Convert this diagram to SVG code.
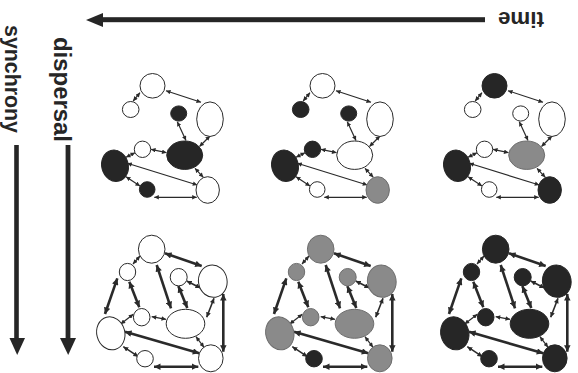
<svg xmlns="http://www.w3.org/2000/svg" width="578" height="373" viewBox="0 0 578 373">
  <style>
    .lbl { font-family: "Liberation Sans", Arial, sans-serif; font-weight: bold; fill: #262626; }
    .axis { fill: #262626; }
    .w { fill: #ffffff; stroke: #2a2a2a; stroke-width: 1; }
    .b { fill: #262626; stroke: #262626; stroke-width: 1; }
    .g { fill: #8a8a8a; stroke: #6e6e6e; stroke-width: 1; }
    .e1 { stroke: #2a2a2a; stroke-width: 1.2; fill: none; marker-start: url(#hs); marker-end: url(#hs); }
    .e2 { stroke: #2a2a2a; stroke-width: 1.6; fill: none; marker-start: url(#hm); marker-end: url(#hm); }
    .e3 { stroke: #2a2a2a; stroke-width: 2.6; fill: none; marker-start: url(#hl); marker-end: url(#hl); }
  </style>
  <defs>
    <marker id="hs" viewBox="0 0 10 10" refX="10" refY="5" markerWidth="5" markerHeight="4.5" markerUnits="userSpaceOnUse" orient="auto-start-reverse">
      <path d="M0,0 L10,5 L0,10 z" fill="#2a2a2a"/>
    </marker>
    <marker id="hm" viewBox="0 0 10 10" refX="10" refY="5" markerWidth="5.5" markerHeight="5" markerUnits="userSpaceOnUse" orient="auto-start-reverse">
      <path d="M0,0 L10,5 L0,10 z" fill="#2a2a2a"/>
    </marker>
    <marker id="hl" viewBox="0 0 10 10" refX="10" refY="5" markerWidth="7" markerHeight="6.5" markerUnits="userSpaceOnUse" orient="auto-start-reverse">
      <path d="M0,0 L10,5 L0,10 z" fill="#2a2a2a"/>
    </marker>
  </defs>

  <rect width="578" height="373" fill="#ffffff"/>

  <!-- axes -->
  <g id="axis-time">
    <rect class="axis" x="100" y="17.2" width="385" height="5"/>
    <polygon class="axis" points="86,20 103,13 103,27"/>
    <text class="lbl" font-size="22" text-anchor="middle" textLength="46" lengthAdjust="spacingAndGlyphs" transform="translate(521,11.7) rotate(180)">time</text>
  </g>
  <g id="axis-dispersal">
    <rect class="axis" x="65.6" y="145" width="4.8" height="195"/>
    <polygon class="axis" points="60,338 76,338 68.2,355"/>
    <text class="lbl" font-size="23" textLength="105" lengthAdjust="spacingAndGlyphs" transform="translate(53.5,37) rotate(90)">dispersal</text>
  </g>
  <g id="axis-synchrony">
    <rect class="axis" x="14.2" y="145" width="4.6" height="195"/>
    <polygon class="axis" points="9.5,338 25,338 17.2,355"/>
    <text class="lbl" font-size="22" textLength="108" lengthAdjust="spacingAndGlyphs" transform="translate(4.5,25) rotate(90)">synchrony</text>
  </g>

  <!-- connectors -->
  <g id="connectors">
    <g id="c-top-1">
      <line class="e1" x1="140" y1="92.7" x2="133.2" y2="101"/>
      <line class="e1" x1="166" y1="90.7" x2="201" y2="102.3"/>
      <line class="e1" x1="177.3" y1="121.7" x2="186" y2="140.5"/>
      <line class="e1" x1="210" y1="136" x2="199.5" y2="146.5"/>
      <line class="e1" x1="151" y1="149.3" x2="166.5" y2="152.7"/>
      <line class="e1" x1="135" y1="152.7" x2="126" y2="157.3"/>
      <line class="e1" x1="127.3" y1="163.3" x2="197.3" y2="185"/>
      <line class="e1" x1="195" y1="168.3" x2="203.3" y2="177.3"/>
      <line class="e1" x1="126" y1="176.7" x2="140" y2="186"/>
      <line class="e1" x1="154.3" y1="197.3" x2="196.7" y2="197.3"/>
    </g>
    <g id="c-top-2" transform="translate(170,0)">
      <line class="e1" x1="140" y1="92.7" x2="133.2" y2="101"/>
      <line class="e1" x1="166" y1="90.7" x2="201" y2="102.3"/>
      <line class="e1" x1="177.3" y1="121.7" x2="186" y2="140.5"/>
      <line class="e1" x1="210" y1="136" x2="199.5" y2="146.5"/>
      <line class="e1" x1="151" y1="149.3" x2="166.5" y2="152.7"/>
      <line class="e1" x1="135" y1="152.7" x2="126" y2="157.3"/>
      <line class="e1" x1="127.3" y1="163.3" x2="197.3" y2="185"/>
      <line class="e1" x1="195" y1="168.3" x2="203.3" y2="177.3"/>
      <line class="e1" x1="126" y1="176.7" x2="140" y2="186"/>
      <line class="e1" x1="154.3" y1="197.3" x2="196.7" y2="197.3"/>
    </g>
    <g id="c-top-3" transform="translate(342,0)">
      <line class="e1" x1="140" y1="92.7" x2="133.2" y2="101"/>
      <line class="e1" x1="166" y1="90.7" x2="201" y2="102.3"/>
      <line class="e1" x1="177.3" y1="121.7" x2="186" y2="140.5"/>
      <line class="e1" x1="210" y1="136" x2="199.5" y2="146.5"/>
      <line class="e1" x1="151" y1="149.3" x2="166.5" y2="152.7"/>
      <line class="e1" x1="135" y1="152.7" x2="126" y2="157.3"/>
      <line class="e1" x1="127.3" y1="163.3" x2="197.3" y2="185"/>
      <line class="e1" x1="195" y1="168.3" x2="203.3" y2="177.3"/>
      <line class="e1" x1="126" y1="176.7" x2="140" y2="186"/>
      <line class="e1" x1="154.3" y1="197.3" x2="196.7" y2="197.3"/>
    </g>
    <g id="c-bot-1">
      <line class="e1" x1="140" y1="256" x2="133" y2="264"/>
      <line class="e3" x1="165" y1="253.3" x2="201.7" y2="266"/>
      <line class="e3" x1="156.7" y1="265" x2="171" y2="308.3"/>
      <line class="e3" x1="117.3" y1="278.3" x2="105" y2="314"/>
      <line class="e3" x1="129.3" y1="281.7" x2="139.3" y2="307.3"/>
      <line class="e2" x1="186.7" y1="281" x2="200.5" y2="288"/>
      <line class="e3" x1="178.3" y1="286" x2="187.3" y2="308"/>
      <line class="e2" x1="214" y1="298.3" x2="206.7" y2="317.3"/>
      <line class="e3" x1="223.3" y1="294" x2="223.3" y2="351.7"/>
      <line class="e1" x1="133.3" y1="314.3" x2="120.7" y2="324"/>
      <line class="e1" x1="151.7" y1="316.7" x2="166" y2="319.3"/>
      <line class="e3" x1="125" y1="331.7" x2="199.3" y2="353.3"/>
      <line class="e1" x1="196" y1="336.7" x2="204" y2="347.3"/>
      <line class="e2" x1="123.3" y1="346.7" x2="138.3" y2="356.7"/>
      <line class="e3" x1="154" y1="366.7" x2="198.3" y2="366.7"/>
    </g>
    <g id="c-bot-2" transform="translate(169,0)">
      <line class="e1" x1="140" y1="256" x2="133" y2="264"/>
      <line class="e3" x1="165" y1="253.3" x2="201.7" y2="266"/>
      <line class="e3" x1="156.7" y1="265" x2="171" y2="308.3"/>
      <line class="e3" x1="117.3" y1="278.3" x2="105" y2="314"/>
      <line class="e3" x1="129.3" y1="281.7" x2="139.3" y2="307.3"/>
      <line class="e2" x1="186.7" y1="281" x2="200.5" y2="288"/>
      <line class="e3" x1="178.3" y1="286" x2="187.3" y2="308"/>
      <line class="e2" x1="214" y1="298.3" x2="206.7" y2="317.3"/>
      <line class="e3" x1="223.3" y1="294" x2="223.3" y2="351.7"/>
      <line class="e1" x1="133.3" y1="314.3" x2="120.7" y2="324"/>
      <line class="e1" x1="151.7" y1="316.7" x2="166" y2="319.3"/>
      <line class="e3" x1="125" y1="331.7" x2="199.3" y2="353.3"/>
      <line class="e1" x1="196" y1="336.7" x2="204" y2="347.3"/>
      <line class="e2" x1="123.3" y1="346.7" x2="138.3" y2="356.7"/>
      <line class="e3" x1="154" y1="366.7" x2="198.3" y2="366.7"/>
    </g>
    <g id="c-bot-3" transform="translate(344,0)">
      <line class="e1" x1="140" y1="256" x2="133" y2="264"/>
      <line class="e3" x1="165" y1="253.3" x2="201.7" y2="266"/>
      <line class="e3" x1="156.7" y1="265" x2="171" y2="308.3"/>
      <line class="e3" x1="117.3" y1="278.3" x2="105" y2="314"/>
      <line class="e3" x1="129.3" y1="281.7" x2="139.3" y2="307.3"/>
      <line class="e2" x1="186.7" y1="281" x2="200.5" y2="288"/>
      <line class="e3" x1="178.3" y1="286" x2="187.3" y2="308"/>
      <line class="e2" x1="214" y1="298.3" x2="206.7" y2="317.3"/>
      <line class="e3" x1="223.3" y1="294" x2="223.3" y2="351.7"/>
      <line class="e1" x1="133.3" y1="314.3" x2="120.7" y2="324"/>
      <line class="e1" x1="151.7" y1="316.7" x2="166" y2="319.3"/>
      <line class="e3" x1="125" y1="331.7" x2="199.3" y2="353.3"/>
      <line class="e1" x1="196" y1="336.7" x2="204" y2="347.3"/>
      <line class="e2" x1="123.3" y1="346.7" x2="138.3" y2="356.7"/>
      <line class="e3" x1="154" y1="366.7" x2="198.3" y2="366.7"/>
    </g>
  </g>

  <!-- top row: sparse network at three times -->
  <g id="panel-top-1">
    <g id="t1-n1"><ellipse class="w" cx="152.5" cy="85.8" rx="12.5" ry="12.3"/></g>
    <g id="t1-n2"><ellipse class="w" cx="130.7" cy="109.5" rx="8.3" ry="8"/></g>
    <g id="t1-n3"><ellipse class="b" cx="178.7" cy="113.5" rx="8" ry="7.6"/></g>
    <g id="t1-n4"><ellipse class="w" cx="210" cy="119.2" rx="13.3" ry="17.3"/></g>
    <g id="t1-n5"><ellipse class="w" cx="142.5" cy="149.3" rx="8.2" ry="8.2"/></g>
    <g id="t1-n6"><ellipse class="b" cx="184.7" cy="155.2" rx="18" ry="14.2"/></g>
    <g id="t1-n7"><ellipse class="b" cx="115" cy="165.8" rx="13.3" ry="15.8" transform="rotate(-15 115 165.8)"/></g>
    <g id="t1-n8"><ellipse class="b" cx="147.2" cy="189.5" rx="7.8" ry="7.8"/></g>
    <g id="t1-n9"><ellipse class="w" cx="207.7" cy="190" rx="11.7" ry="13.3"/></g>
  </g>
  <g id="panel-top-2" transform="translate(170,0)">
    <g id="t2-n1"><ellipse class="w" cx="152.5" cy="85.8" rx="12.5" ry="12.3"/></g>
    <g id="t2-n2"><ellipse class="b" cx="130.7" cy="109.5" rx="8.3" ry="8"/></g>
    <g id="t2-n3"><ellipse class="b" cx="178.7" cy="113.5" rx="8" ry="7.6"/></g>
    <g id="t2-n4"><ellipse class="w" cx="210" cy="119.2" rx="13.3" ry="17.3"/></g>
    <g id="t2-n5"><ellipse class="b" cx="142.5" cy="149.3" rx="8.2" ry="8.2"/></g>
    <g id="t2-n6"><ellipse class="w" cx="184.7" cy="155.2" rx="18" ry="14.2"/></g>
    <g id="t2-n7"><ellipse class="b" cx="115" cy="165.8" rx="13.3" ry="15.8" transform="rotate(-15 115 165.8)"/></g>
    <g id="t2-n8"><ellipse class="w" cx="147.2" cy="189.5" rx="7.8" ry="7.8"/></g>
    <g id="t2-n9"><ellipse class="g" cx="207.7" cy="190" rx="11.7" ry="13.3"/></g>
  </g>
  <g id="panel-top-3" transform="translate(342,0)">
    <g id="t3-n1"><ellipse class="b" cx="152.5" cy="85.8" rx="12.5" ry="12.3"/></g>
    <g id="t3-n2"><ellipse class="w" cx="130.7" cy="109.5" rx="8.3" ry="8"/></g>
    <g id="t3-n3"><ellipse class="w" cx="178.7" cy="113.5" rx="8" ry="7.6"/></g>
    <g id="t3-n4"><ellipse class="w" cx="210" cy="119.2" rx="13.3" ry="17.3"/></g>
    <g id="t3-n5"><ellipse class="w" cx="142.5" cy="149.3" rx="8.2" ry="8.2"/></g>
    <g id="t3-n6"><ellipse class="g" cx="184.7" cy="155.2" rx="18" ry="14.2"/></g>
    <g id="t3-n7"><ellipse class="b" cx="115" cy="165.8" rx="13.3" ry="15.8" transform="rotate(-15 115 165.8)"/></g>
    <g id="t3-n8"><ellipse class="w" cx="147.2" cy="189.5" rx="7.8" ry="7.8"/></g>
    <g id="t3-n9"><ellipse class="b" cx="207.7" cy="190" rx="11.7" ry="13.3"/></g>
  </g>

  <!-- bottom row: dense network at three times -->
  <g id="panel-bot-1">
    <g id="b1-n1"><ellipse class="w" cx="151.7" cy="249.2" rx="13.3" ry="14"/></g>
    <g id="b1-n2"><ellipse class="w" cx="127.5" cy="272" rx="8.2" ry="8.6"/></g>
    <g id="b1-n3"><ellipse class="w" cx="178.7" cy="277.2" rx="8.5" ry="8.7"/></g>
    <g id="b1-n4"><ellipse class="w" cx="212.8" cy="281.2" rx="14.3" ry="16.2" transform="rotate(-10 212.8 281.2)"/></g>
    <g id="b1-n5"><ellipse class="w" cx="141.7" cy="317.2" rx="8.3" ry="8.7"/></g>
    <g id="b1-n6"><ellipse class="w" cx="185.5" cy="323.8" rx="19.3" ry="14.5"/></g>
    <g id="b1-n7"><ellipse class="w" cx="110.8" cy="333.3" rx="14" ry="16.7" transform="rotate(-15 110.8 333.3)"/></g>
    <g id="b1-n8"><ellipse class="w" cx="145" cy="358.7" rx="8.3" ry="8.2"/></g>
    <g id="b1-n9"><ellipse class="w" cx="210.8" cy="358.3" rx="12.3" ry="13.5"/></g>
  </g>
  <g id="panel-bot-2" transform="translate(169,0)">
    <g id="b2-n1"><ellipse class="g" cx="151.7" cy="249.2" rx="13.3" ry="14"/></g>
    <g id="b2-n2"><ellipse class="g" cx="127.5" cy="272" rx="8.2" ry="8.6"/></g>
    <g id="b2-n3"><ellipse class="g" cx="178.7" cy="277.2" rx="8.5" ry="8.7"/></g>
    <g id="b2-n4"><ellipse class="g" cx="212.8" cy="281.2" rx="14.3" ry="16.2" transform="rotate(-10 212.8 281.2)"/></g>
    <g id="b2-n5"><ellipse class="g" cx="141.7" cy="317.2" rx="8.3" ry="8.7"/></g>
    <g id="b2-n6"><ellipse class="g" cx="185.5" cy="323.8" rx="19.3" ry="14.5"/></g>
    <g id="b2-n7"><ellipse class="g" cx="110.8" cy="333.3" rx="14" ry="16.7" transform="rotate(-15 110.8 333.3)"/></g>
    <g id="b2-n8"><ellipse class="b" cx="145" cy="358.7" rx="8.3" ry="8.2"/></g>
    <g id="b2-n9"><ellipse class="g" cx="210.8" cy="358.3" rx="12.3" ry="13.5"/></g>
  </g>
  <g id="panel-bot-3" transform="translate(344,0)">
    <g id="b3-n1"><ellipse class="b" cx="151.7" cy="249.2" rx="13.3" ry="14"/></g>
    <g id="b3-n2"><ellipse class="b" cx="127.5" cy="272" rx="8.2" ry="8.6"/></g>
    <g id="b3-n3"><ellipse class="b" cx="178.7" cy="277.2" rx="8.5" ry="8.7"/></g>
    <g id="b3-n4"><ellipse class="b" cx="212.8" cy="281.2" rx="14.3" ry="16.2" transform="rotate(-10 212.8 281.2)"/></g>
    <g id="b3-n5"><ellipse class="b" cx="141.7" cy="317.2" rx="8.3" ry="8.7"/></g>
    <g id="b3-n6"><ellipse class="b" cx="185.5" cy="323.8" rx="19.3" ry="14.5"/></g>
    <g id="b3-n7"><ellipse class="b" cx="110.8" cy="333.3" rx="14" ry="16.7" transform="rotate(-15 110.8 333.3)"/></g>
    <g id="b3-n8"><ellipse class="b" cx="145" cy="358.7" rx="8.3" ry="8.2"/></g>
    <g id="b3-n9"><ellipse class="b" cx="210.8" cy="358.3" rx="12.3" ry="13.5"/></g>
  </g>
</svg>
